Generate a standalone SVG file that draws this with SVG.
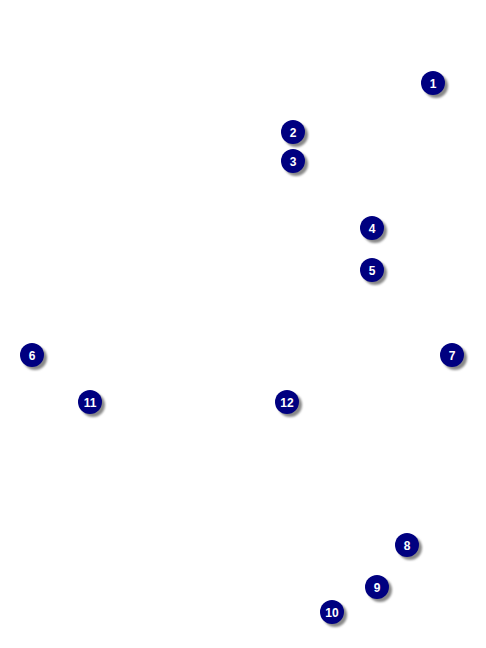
<svg xmlns="http://www.w3.org/2000/svg" width="486" height="648" viewBox="0 0 486 648">
<defs>
<filter id="blur" x="-50%" y="-50%" width="200%" height="200%"><feGaussianBlur stdDeviation="1.2"/></filter>
</defs>
<style>
.sh{fill:#888;filter:url(#blur)}
.c{fill:#000080}
.t{fill:#fff;font-family:"Liberation Sans",Arial,sans-serif;font-weight:bold;font-size:12px;text-anchor:middle}
</style>
<rect width="486" height="648" fill="#fff"/>
<g id="connectors"/>
<g id="n1"><circle class="sh" cx="436" cy="86" r="12"/><circle class="c" cx="433" cy="83" r="12"/><text class="t" x="433" y="87.5">1</text></g>
<g id="n2"><circle class="sh" cx="296" cy="135" r="12"/><circle class="c" cx="293" cy="132" r="12"/><text class="t" x="293" y="136.5">2</text></g>
<g id="n3"><circle class="sh" cx="296" cy="164" r="12"/><circle class="c" cx="293" cy="161" r="12"/><text class="t" x="293" y="165.5">3</text></g>
<g id="n4"><circle class="sh" cx="375" cy="231" r="12"/><circle class="c" cx="372" cy="228" r="12"/><text class="t" x="372" y="232.5">4</text></g>
<g id="n5"><circle class="sh" cx="375" cy="273" r="12"/><circle class="c" cx="372" cy="270" r="12"/><text class="t" x="372" y="274.5">5</text></g>
<g id="n6"><circle class="sh" cx="35" cy="358" r="12"/><circle class="c" cx="32" cy="355" r="12"/><text class="t" x="32" y="359.5">6</text></g>
<g id="n7"><circle class="sh" cx="455" cy="358" r="12"/><circle class="c" cx="452" cy="355" r="12"/><text class="t" x="452" y="359.5">7</text></g>
<g id="n8"><circle class="sh" cx="410" cy="548" r="12"/><circle class="c" cx="407" cy="545" r="12"/><text class="t" x="407" y="549.5">8</text></g>
<g id="n9"><circle class="sh" cx="380" cy="590" r="12"/><circle class="c" cx="377" cy="587" r="12"/><text class="t" x="377" y="591.5">9</text></g>
<g id="n10"><circle class="sh" cx="335" cy="615" r="12"/><circle class="c" cx="332" cy="612" r="12"/><text class="t" x="332" y="616.5">10</text></g>
<g id="n11"><circle class="sh" cx="93" cy="405" r="12"/><circle class="c" cx="90" cy="402" r="12"/><text class="t" x="90" y="406.5">11</text></g>
<g id="n12"><circle class="sh" cx="290" cy="405" r="12"/><circle class="c" cx="287" cy="402" r="12"/><text class="t" x="287" y="406.5">12</text></g>
</svg>
